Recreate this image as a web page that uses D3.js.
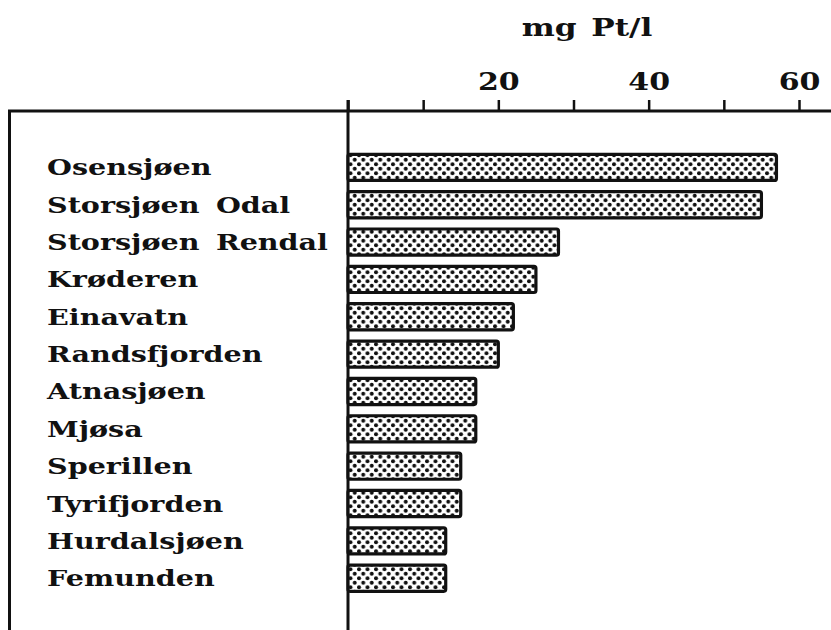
<!DOCTYPE html>
<html>
<head>
<meta charset="utf-8">
<script src="https://cdn.jsdelivr.net/npm/d3@7"></script>
<style>
  body { margin: 0; background: #fff; }
  text { font-family: "DejaVu Serif", serif; font-weight: bold; fill: #111; }
</style>
</head>
<body>
<div id="chart"></div>
<script>
const lakes = ["Osensjøen", "Storsjøen Odal", "Storsjøen Rendal", "Krøderen", "Einavatn",
    "Randsfjorden", "Atnasjøen", "Mjøsa", "Sperillen", "Tyrifjorden", "Hurdalsjøen", "Femunden"];
const colour = [57, 55, 28, 25, 22, 20, 17, 17, 15, 15, 13, 13];
const tickValues = [0, 10, 20, 30, 40, 50, 60];
const tickLabels = ["", "", "20", "", "40", "", "60"];
const unitLabel = "mg Pt/l";

const width = 831, height = 630;
const axisY = 111;

const svg = d3.select("#chart").append("svg")
    .attr("width", width)
    .attr("height", height);

// dotted fill like the printed screen
const defs = svg.append("defs");
const pat = defs.append("pattern")
    .attr("id", "dots")
    .attr("patternUnits", "userSpaceOnUse")
    .attr("width", 8.5)
    .attr("height", 9);
pat.append("rect").attr("width", 8.5).attr("height", 9).attr("fill", "#fff");
pat.append("circle").attr("cx", 2).attr("cy", 2.2).attr("r", 2).attr("fill", "#111");
pat.append("circle").attr("cx", 6.25).attr("cy", 6.7).attr("r", 2).attr("fill", "#111");

const x = d3.scaleLinear().domain([0, 60]).range([348, 799]);
const y = d3.scaleBand()
    .domain(lakes)
    .range([148.7, 596.9])
    .paddingInner(0.3)
    .paddingOuter(0.15);

// frame: top line and left border
svg.append("line")
    .attr("x1", 8).attr("x2", width)
    .attr("y1", axisY).attr("y2", axisY)
    .attr("stroke", "#111").attr("stroke-width", 3);
svg.append("line")
    .attr("x1", 9.5).attr("x2", 9.5)
    .attr("y1", axisY).attr("y2", height)
    .attr("stroke", "#111").attr("stroke-width", 3);

// vertical zero line
svg.append("line")
    .attr("x1", x(0)).attr("x2", x(0))
    .attr("y1", axisY - 11).attr("y2", height)
    .attr("stroke", "#111").attr("stroke-width", 3);

const axis = svg.append("g")
    .attr("transform", `translate(0, ${axisY})`)
    .call(d3.axisTop(x)
        .tickValues(tickValues)
        .tickSize(11)
        .tickPadding(10)
        .tickFormat((d, i) => tickLabels[i]));
axis.select(".domain").remove();
axis.selectAll(".tick line").attr("stroke", "#111").attr("stroke-width", 2.5);
axis.selectAll(".tick text")
    .style("font-family", "DejaVu Serif, serif")
    .style("font-weight", "bold")
    .style("font-size", "25px")
    .attr("fill", "#111")
    .attr("transform", "scale(1.2, 1)");

svg.append("g")
    .attr("transform", "translate(587, 36) scale(1.25, 1)")
    .append("text")
    .attr("text-anchor", "middle")
    .style("font-size", "25px")
    .style("word-spacing", "3px")
    .text(unitLabel);

// bars
svg.selectAll(".bar")
    .data(colour)
    .enter().append("rect")
    .attr("class", "bar")
    .attr("x", x(0))
    .attr("y", (d, i) => y(lakes[i]))
    .attr("width", d => x(d) - x(0))
    .attr("height", y.bandwidth())
    .attr("rx", 2)
    .attr("fill", "url(#dots)")
    .attr("stroke", "#111")
    .attr("stroke-width", 3.2);

// lake names, stretched to match the wide schoolbook face
const names = svg.append("g")
    .attr("transform", "translate(47, 0) scale(1.3, 1)");
names.selectAll(".name")
    .data(lakes)
    .enter().append("text")
    .attr("class", "name")
    .attr("x", 0)
    .attr("y", d => y(d) + y.bandwidth() / 2 + 8)
    .style("font-size", "22px")
    .style("word-spacing", "5px")
    .text(d => d);
</script>
</body>
</html>
